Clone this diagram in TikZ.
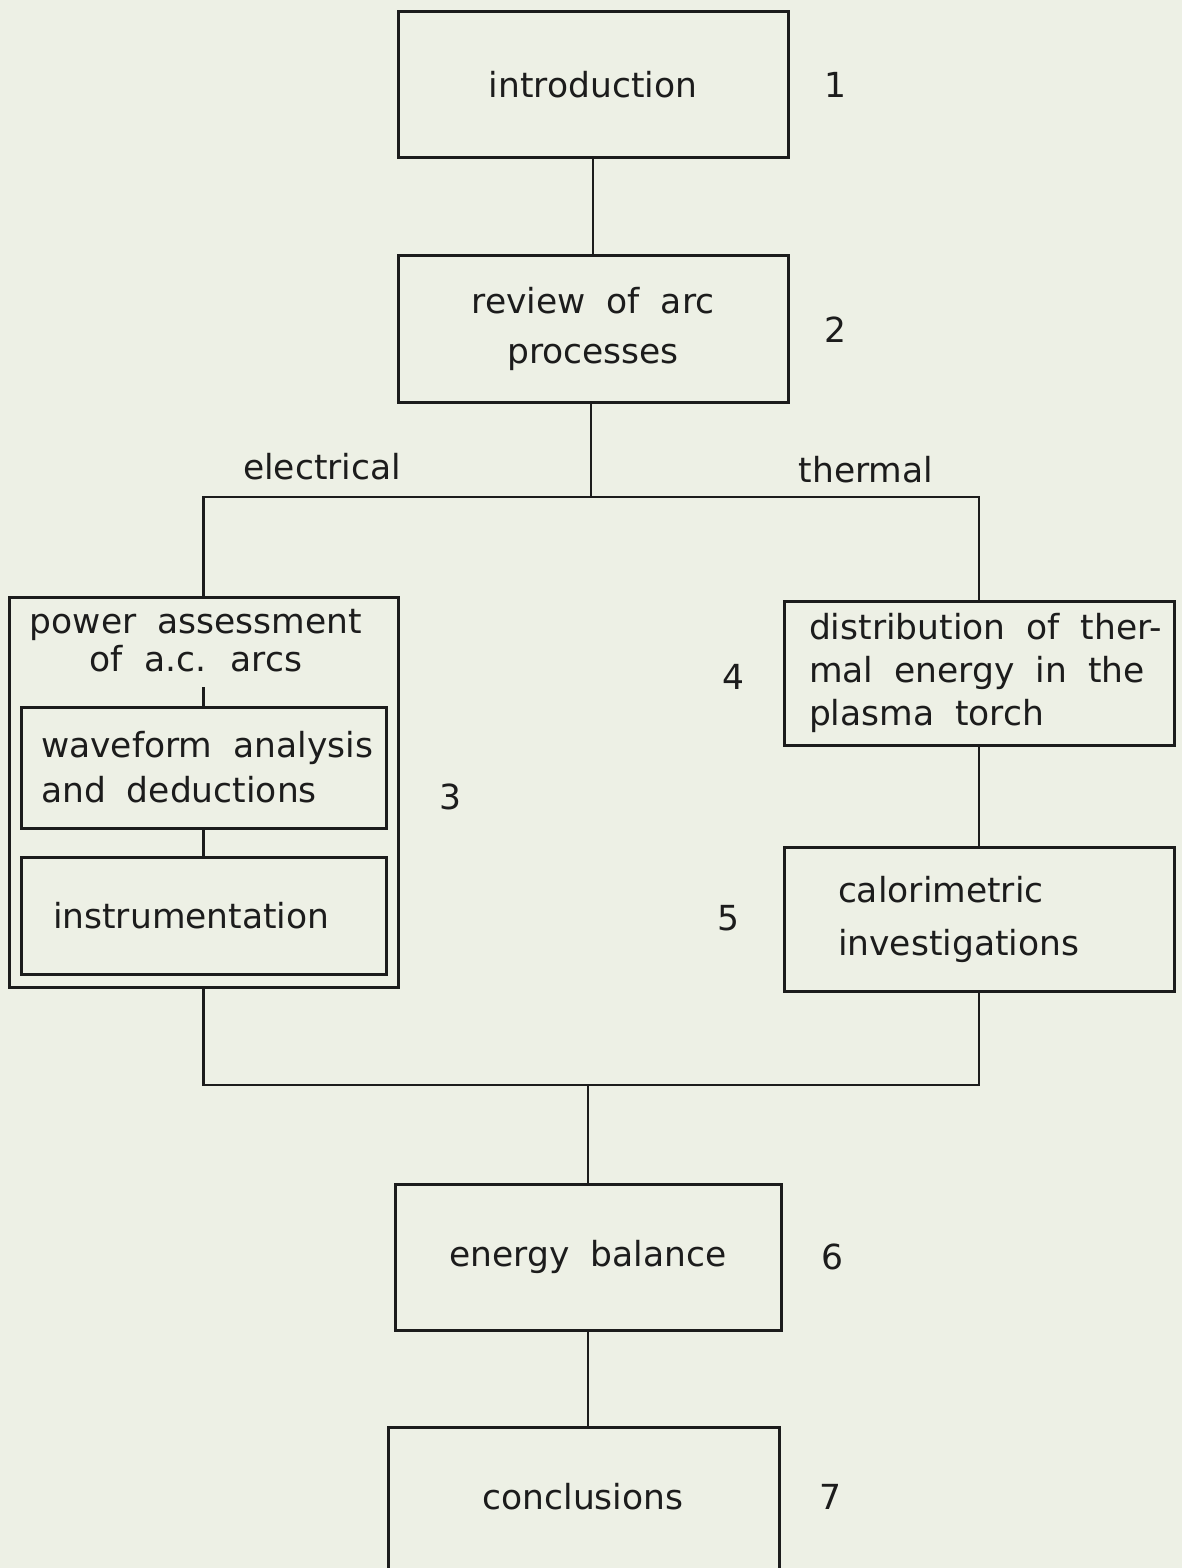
\documentclass[tikz,border=0pt]{standalone}
\usepackage{fontspec}
\setmainfont{DejaVu Sans}
\definecolor{paper}{RGB}{237,240,229}
\definecolor{ink}{RGB}{28,28,28}
\newcommand{\fs}[1]{\fontsize{34.5}{#1}\selectfont\spaceskip=21pt plus 2pt minus 2pt\relax}
\begin{document}
\begin{tikzpicture}[x=1pt,y=-1pt,
  every node/.style={text=ink},
  box/.style={draw=ink, line width=3pt, rectangle, inner sep=0pt},
  lbl/.style={inner sep=0pt, font=\fs{40}},
  wire/.style={draw=ink, line width=2.9pt}]
\fill[paper] (0,0) rectangle (1182,1568);
\useasboundingbox (0,0) rectangle (1182,1568);

% boxes
\node[box, minimum width=390pt, minimum height=145pt, font=\fs{40}] (b1) at (593,84.5) {introduction};
\node[box, minimum width=390pt, minimum height=147pt, align=center, font=\fs{50}] (b2) at (593,328.5) {review of arc\\processes};
\node[box, minimum width=389pt, minimum height=390pt] (b3) at (203.5,792) {};
\node[lbl, align=center, font=\fs{38}] (t3) at (196,641) {power assessment\\of a.c. arcs};
\node[box, minimum width=365pt, minimum height=121pt, text width=345pt, inner xsep=10pt, align=flush left, font=\fs{45}] (b3a) at (203.5,767.5) {\hspace*{10pt}waveform analysis\\\hspace*{10pt}and deductions};
\node[box, minimum width=365pt, minimum height=117pt, text width=301pt, inner xsep=32pt, align=flush left, font=\fs{40}] (b3b) at (203.5,915.5) {instrumentation};
\node[box, minimum width=390pt, minimum height=144pt, text width=370pt, inner xsep=10pt, align=flush left, font=\fs{43}] (b4) at (979,673) {\hspace*{15pt}distribution of ther-\\\hspace*{15pt}mal energy in the\\\hspace*{15pt}plasma torch};
\node[box, minimum width=390pt, minimum height=144pt, text width=282pt, inner xsep=54pt, align=flush left, font=\fs{53}] (b5) at (979,919) {calorimetric\\investigations};
\node[box, minimum width=386pt, minimum height=146pt, font=\fs{40}] (b6) at (588,1257) {energy balance};
\node[box, minimum width=391pt, minimum height=160pt] (b7) at (583.5,1507) {};
\node[lbl] (t7) at (583,1497) {conclusions};

% branch labels
\node[lbl] (el) at (322,467) {electrical};
\node[lbl] (th) at (866,470) {thermal};

% chapter numbers
\node[lbl] (n1) at (835,85) {1};
\node[lbl] (n2) at (835,330) {2};
\node[lbl] (n3) at (450,797) {3};
\node[lbl] (n4) at (733,677) {4};
\node[lbl] (n5) at (728,918) {5};
\node[lbl] (n6) at (832,1257) {6};
\node[lbl] (n7) at (830,1497) {7};

% junctions
\coordinate (split) at (591,497);
\coordinate (merge) at (588,1085);
\coordinate (tick) at (203.5,687);

% connectors
\draw[wire] (b1.south) -- (b1.south |- b2.north);
\draw[wire] (b2.south -| split) -- (split);
\draw[wire] (b3.north) |- (split) -| (b4.north);
\draw[wire] (tick) -- (b3a.north);
\draw[wire] (b3a.south) -- (b3b.north);
\draw[wire] (b4.south) -- (b5.north);
\draw[wire] (b3.south) |- (merge) -| (b5.south);
\draw[wire] (merge) -- (b6.north);
\draw[wire] (b6.south) -- (b6.south |- b7.north);
\end{tikzpicture}
\end{document}
